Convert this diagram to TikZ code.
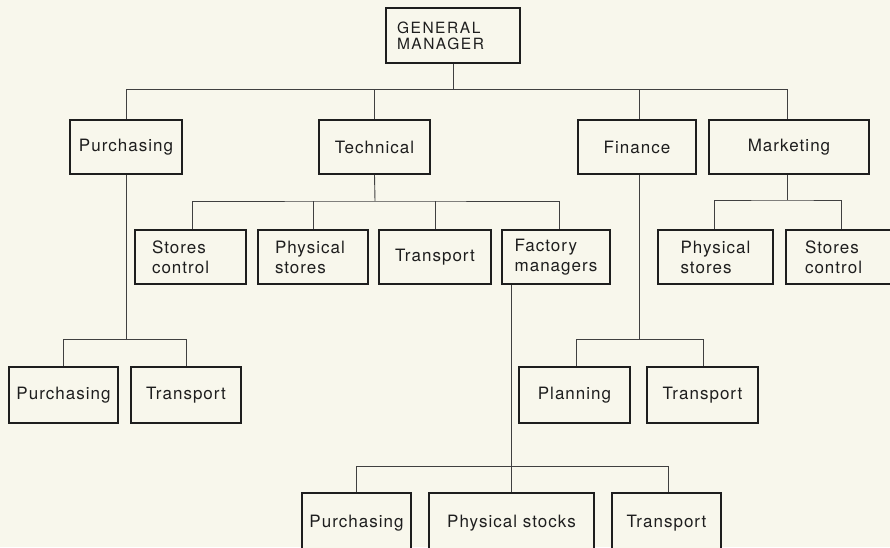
\documentclass[tikz,border=0pt]{standalone}
\usepackage{fontspec}
\newfontfamily\chartfont{TeX Gyre Heros}[LetterSpace=6]
\newfontfamily\headfont{TeX Gyre Heros}[LetterSpace=10]
\definecolor{paper}{HTML}{F8F7EC}
\definecolor{ink}{HTML}{1E1E1E}
\begin{document}
\begin{tikzpicture}[x=1pt,y=-1pt,
  box/.style={draw=ink, line width=1.5pt, inner sep=0pt, fill=paper, text=ink,
    align=center, font=\chartfont\fontsize{17}{20}\selectfont},
  headbox/.style={box, font=\headfont\fontsize{15.5}{16}\selectfont},
  wire/.style={draw=ink!85, line width=0.9pt}]
\fill[paper] (0,0) rectangle (890,547);
\useasboundingbox (0,0) rectangle (890,547);
\path[clip] (0,0) rectangle (890,547);

% top of the chart
\node[headbox, minimum height=55, text width=112, inner xsep=11, align=left] (gm) at (453,35.5) {GENERAL\\MANAGER};

% departments
\node[box, minimum width=112, minimum height=54] (pur) at (126,147)   {Purchasing};
\node[box, minimum width=111, minimum height=54] (tec) at (374.5,147) {Technical};
\node[box, minimum width=118, minimum height=54] (fin) at (637,147)   {Finance};
\node[box, minimum width=160, minimum height=54] (mkt) at (789,147)   {Marketing};

% technical and marketing sections
\node[box, minimum height=54, text width=77, inner xsep=17, align=left] (sc) at (190.5,257) {Stores\\control};
\node[box, minimum height=54, text width=76, inner xsep=17, align=left] (ps) at (313,257)   {Physical\\stores};
\node[box, minimum width=112, minimum height=54] (tr) at (435,257) {Transport};
\node[box, minimum width=108, minimum height=54, align=left] (fm) at (556,257) {Factory\\managers};
\node[box, minimum width=115, minimum height=54, align=left] (mps) at (715.5,257) {Physical\\stores};
\node[box, minimum height=54, text width=76, inner xsep=19, align=left] (msc) at (843,257) {Stores\\control};

% purchasing and finance sections
\node[box, minimum width=109, minimum height=56] (pp) at (63.5,395)  {Purchasing};
\node[box, minimum width=110, minimum height=56] (pt) at (186,395)   {Transport};
\node[box, minimum width=111, minimum height=56] (fp) at (574.5,395) {Planning};
\node[box, minimum width=111, minimum height=56] (ft) at (702.5,395) {Transport};

% factory sections
\node[box, minimum width=109, minimum height=60] (bp) at (356.5,523) {Purchasing};
\node[box, minimum width=165, minimum height=60] (bs) at (511.5,523) {Physical stocks};
\node[box, minimum width=109, minimum height=60] (bt) at (666.5,523) {Transport};

% bus lines
\coordinate (b0) at (453,89);
\coordinate (b1) at (375,201);
\coordinate (b2) at (787,200);
\coordinate (b3) at (126,339);
\coordinate (b4) at (639,339);
\coordinate (b5) at (511,466);

% general manager to departments
\draw[wire] (gm.south) -- (b0);
\draw[wire] (pur.north) -- (pur.north |- b0) -| ([xshift=-2]mkt.north);
\draw[wire] (tec.north) -- (tec.north |- b0);
\draw[wire] ([xshift=2]fin.north) -- ([xshift=2]fin.north |- b0);

% technical
\draw[wire] (tec.south) -- (b1);
\draw[wire] ([xshift=1.5]sc.north) |- (b1) -| ([xshift=3]fm.north);
\draw[wire] (ps.north) -- (ps.north |- b1);
\draw[wire] (tr.north) -- (tr.north |- b1);

% marketing
\draw[wire] ([xshift=-2]mkt.south) -- (b2);
\draw[wire] ([xshift=-1.5]mps.north) |- (b2) -| ([xshift=-2]msc.north);

% purchasing
\draw[wire] (pur.south) -- (b3);
\draw[wire] (pp.north) |- (b3) -| (pt.north);

% finance
\draw[wire] ([xshift=2]fin.south) -- (b4);
\draw[wire] ([xshift=1.5]fp.north) |- (b4) -| ([xshift=0.5]ft.north);

% factory managers
\draw[wire] ([xshift=-45]fm.south) -- ([xshift=-45]fm.south |- bs.north);
\draw[wire] (bp.north) |- (b5) -| ([xshift=1.5]bt.north);
\end{tikzpicture}
\end{document}
